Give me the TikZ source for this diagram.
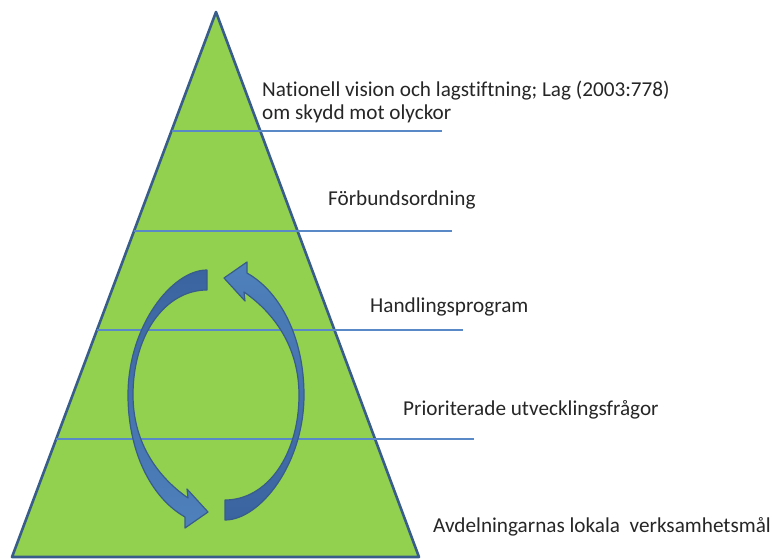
\documentclass[tikz,border=0pt]{standalone}
\usepackage{fontspec}
\setmainfont[Ligatures=NoCommon]{Carlito}
\definecolor{pgreen}{HTML}{92D050}
\definecolor{pborder}{HTML}{385D8A}
\definecolor{pline}{HTML}{5A89C8}
\definecolor{arrlight}{HTML}{4F81BD}
\definecolor{arrdark}{HTML}{3A64A0}
\tikzset{
  levellabel/.style={anchor=base west, inner sep=0pt, font=\fontsize{21.2}{23}\selectfont, text=black!85},
  levelline/.style={draw=pline, line width=1.3pt},
  cyclearrow/.style={draw=pborder, line width=1.2pt, line join=round},
}
\begin{document}
\begin{tikzpicture}[x=1pt,y=-1pt]
\useasboundingbox (0,0) rectangle (773,559);
% pyramid
\coordinate (apex) at (216,12);
\coordinate (bl) at (12,557);
\coordinate (br) at (419,557);
\filldraw[fill=pgreen, draw=pborder, line width=2.6pt, line join=round] (apex) -- (br) -- (bl) -- cycle;
% level lines
\coordinate (l1a) at (172,131); \coordinate (l1b) at (442,131);
\coordinate (l2a) at (134,231); \coordinate (l2b) at (452,231);
\coordinate (l3a) at (97,330);  \coordinate (l3b) at (463,330);
\coordinate (l4a) at (56,439);  \coordinate (l4b) at (474,439);
\draw[levelline] (l1a) -- (l1b);
\draw[levelline] (l2a) -- (l2b);
\draw[levelline] (l3a) -- (l3b);
\draw[levelline] (l4a) -- (l4b);
% cycle arrows
\path[cyclearrow, top color=arrdark, bottom color=arrlight]
  (207,270) .. controls (172,270) and (128,326) .. (128,395)
  .. controls (128,450) and (150,497) .. (185,517)
  -- (185,528) -- (208,512) -- (187,489) -- (188,498)
  .. controls (155,475) and (133,440) .. (133,395)
  .. controls (133,335) and (165,290) .. (207,290) -- cycle;
\path[cyclearrow, top color=arrlight, bottom color=arrdark]
  (225,520) .. controls (260,520) and (304,464) .. (304,395)
  .. controls (304,340) and (282,293) .. (247,273)
  -- (247,262) -- (224,278) -- (245,301) -- (244,292)
  .. controls (277,315) and (299,350) .. (299,395)
  .. controls (299,455) and (267,500) .. (225,500) -- cycle;
% labels
\node[levellabel] (nat1) at (262,97) {Nationell vision och lagstiftning; Lag (2003:778)};
\node[levellabel] (nat2) at (262,120) {om skydd mot olyckor};
\node[levellabel] (forb) at (328,205) {Förbundsordning};
\node[levellabel] (hand) at (370,312) {Handlingsprogram};
\node[levellabel] (prio) at (403,415) {Prioriterade utvecklingsfrågor};
\node[levellabel] (avd) at (433,532) {Avdelningarnas lokala\ \ verksamhetsmål};
\end{tikzpicture}
\end{document}
